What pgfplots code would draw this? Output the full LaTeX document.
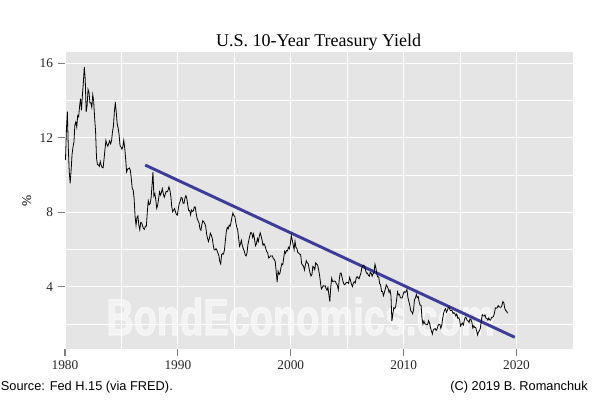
\documentclass[border=0pt]{standalone}
\usepackage{fontspec}
\setmainfont{Liberation Serif}
\newfontfamily\arialfont{Liberation Sans}
\newfontfamily\markfont{Liberation Sans Bold}[FakeBold=2.5]
\usepackage{pgfplots}
\usepackage{pgfplotstable}
\pgfplotsset{compat=1.18}
\definecolor{panel}{HTML}{E5E5E5}
\definecolor{trend}{HTML}{3D3D99}
\definecolor{tickc}{HTML}{7F7F7F}

% monthly 10-year yield, Jan 1980 .. Mar 2019 (one year per line)
\pgfplotstableread[row sep=\\]{
y\\
10.80\\ 12.41\\ 13.40\\ 11.47\\ 10.18\\ 9.55\\ 10.25\\ 11.10\\ 11.51\\ 11.75\\ 12.68\\ 12.84\\
12.57\\ 13.19\\ 13.12\\ 13.68\\ 14.10\\ 13.47\\ 14.28\\ 14.94\\ 15.80\\ 15.15\\ 13.39\\ 13.72\\
14.59\\ 14.43\\ 13.86\\ 13.87\\ 13.62\\ 14.30\\ 13.95\\ 13.06\\ 12.34\\ 10.91\\ 10.55\\ 10.54\\
10.46\\ 10.72\\ 10.51\\ 10.40\\ 10.38\\ 10.85\\ 11.38\\ 11.85\\ 11.65\\ 11.54\\ 11.69\\ 11.83\\
11.67\\ 11.84\\ 12.32\\ 12.63\\ 13.41\\ 13.90\\ 13.36\\ 12.72\\ 12.52\\ 12.16\\ 11.57\\ 11.50\\
11.38\\ 11.51\\ 11.86\\ 11.43\\ 10.85\\ 10.16\\ 10.31\\ 10.33\\ 10.37\\ 10.24\\ 9.78\\ 9.26\\
9.19\\ 8.70\\ 7.78\\ 7.30\\ 7.71\\ 7.80\\ 7.30\\ 7.05\\ 7.45\\ 7.43\\ 7.25\\ 7.11\\
7.08\\ 7.25\\ 7.25\\ 8.02\\ 8.61\\ 8.40\\ 8.45\\ 8.76\\ 9.42\\ 10.15\\ 8.86\\ 8.99\\
8.67\\ 8.21\\ 8.37\\ 8.72\\ 9.09\\ 8.92\\ 9.06\\ 9.26\\ 8.98\\ 8.80\\ 8.96\\ 9.11\\
9.09\\ 9.17\\ 9.36\\ 9.18\\ 8.86\\ 8.28\\ 8.02\\ 8.11\\ 8.19\\ 8.01\\ 7.87\\ 7.84\\
8.21\\ 8.47\\ 8.59\\ 8.79\\ 8.76\\ 8.48\\ 8.47\\ 8.75\\ 8.89\\ 8.72\\ 8.39\\ 8.08\\
8.09\\ 7.85\\ 8.11\\ 8.04\\ 8.07\\ 8.28\\ 8.27\\ 7.90\\ 7.65\\ 7.53\\ 7.42\\ 7.09\\
7.03\\ 7.34\\ 7.54\\ 7.48\\ 7.39\\ 7.26\\ 6.84\\ 6.59\\ 6.42\\ 6.59\\ 6.87\\ 6.77\\
6.60\\ 6.26\\ 5.98\\ 5.97\\ 6.04\\ 5.96\\ 5.81\\ 5.68\\ 5.36\\ 5.22\\ 5.72\\ 5.77\\
5.75\\ 5.97\\ 6.48\\ 6.97\\ 7.18\\ 7.10\\ 7.30\\ 7.24\\ 7.46\\ 7.74\\ 7.96\\ 7.81\\
7.78\\ 7.47\\ 7.20\\ 7.06\\ 6.63\\ 6.17\\ 6.28\\ 6.49\\ 6.20\\ 6.04\\ 5.93\\ 5.71\\
5.65\\ 5.81\\ 6.27\\ 6.51\\ 6.74\\ 6.91\\ 6.87\\ 6.64\\ 6.83\\ 6.53\\ 6.20\\ 6.30\\
6.58\\ 6.42\\ 6.69\\ 6.89\\ 6.71\\ 6.49\\ 6.22\\ 6.30\\ 6.21\\ 6.03\\ 5.88\\ 5.81\\
5.54\\ 5.57\\ 5.65\\ 5.64\\ 5.65\\ 5.50\\ 5.46\\ 5.34\\ 4.81\\ 4.25\\ 4.83\\ 4.65\\
4.72\\ 5.00\\ 5.23\\ 5.18\\ 5.54\\ 5.90\\ 5.79\\ 5.94\\ 5.92\\ 6.11\\ 6.03\\ 6.28\\
6.75\\ 6.52\\ 6.26\\ 5.99\\ 6.44\\ 6.10\\ 6.05\\ 5.83\\ 5.80\\ 5.74\\ 5.72\\ 5.24\\
5.16\\ 5.10\\ 4.89\\ 5.14\\ 5.39\\ 5.28\\ 5.24\\ 4.97\\ 4.73\\ 4.57\\ 4.65\\ 5.09\\
5.04\\ 4.91\\ 5.28\\ 5.21\\ 5.16\\ 4.93\\ 4.65\\ 4.26\\ 3.87\\ 3.94\\ 4.05\\ 4.03\\
4.05\\ 3.90\\ 3.81\\ 3.96\\ 3.57\\ 3.20\\ 3.98\\ 4.45\\ 4.27\\ 4.29\\ 4.30\\ 4.27\\
4.15\\ 4.08\\ 3.83\\ 4.35\\ 4.72\\ 4.73\\ 4.50\\ 4.28\\ 4.13\\ 4.10\\ 4.19\\ 4.23\\
4.22\\ 4.17\\ 4.50\\ 4.34\\ 4.14\\ 4.00\\ 4.18\\ 4.26\\ 4.20\\ 4.46\\ 4.54\\ 4.47\\
4.42\\ 4.57\\ 4.72\\ 4.99\\ 5.11\\ 5.15\\ 5.09\\ 4.88\\ 4.72\\ 4.73\\ 4.60\\ 4.56\\
4.76\\ 4.72\\ 4.56\\ 4.69\\ 4.75\\ 5.20\\ 5.00\\ 4.67\\ 4.52\\ 4.53\\ 4.15\\ 4.10\\
3.74\\ 3.74\\ 3.51\\ 3.68\\ 3.88\\ 4.10\\ 4.01\\ 3.89\\ 3.69\\ 3.81\\ 3.53\\ 2.15\\
2.52\\ 2.87\\ 2.82\\ 2.93\\ 3.29\\ 3.72\\ 3.56\\ 3.59\\ 3.40\\ 3.39\\ 3.40\\ 3.59\\
3.73\\ 3.69\\ 3.73\\ 3.85\\ 3.42\\ 3.20\\ 3.01\\ 2.70\\ 2.65\\ 2.54\\ 2.76\\ 3.29\\
3.39\\ 3.58\\ 3.41\\ 3.46\\ 3.17\\ 3.00\\ 3.00\\ 2.30\\ 1.98\\ 2.15\\ 2.01\\ 1.98\\
1.97\\ 1.97\\ 2.17\\ 2.05\\ 1.80\\ 1.62\\ 1.45\\ 1.68\\ 1.72\\ 1.75\\ 1.65\\ 1.72\\
1.91\\ 1.98\\ 1.96\\ 1.76\\ 1.93\\ 2.30\\ 2.58\\ 2.74\\ 2.81\\ 2.62\\ 2.72\\ 2.90\\
2.86\\ 2.71\\ 2.72\\ 2.71\\ 2.56\\ 2.60\\ 2.54\\ 2.42\\ 2.53\\ 2.30\\ 2.33\\ 2.21\\
1.88\\ 1.98\\ 2.04\\ 1.94\\ 2.20\\ 2.36\\ 2.32\\ 2.17\\ 2.17\\ 2.07\\ 2.26\\ 2.24\\
2.09\\ 1.78\\ 1.89\\ 1.81\\ 1.81\\ 1.64\\ 1.40\\ 1.56\\ 1.63\\ 1.76\\ 2.14\\ 2.49\\
2.43\\ 2.42\\ 2.48\\ 2.30\\ 2.30\\ 2.19\\ 2.32\\ 2.21\\ 2.20\\ 2.36\\ 2.35\\ 2.40\\
2.58\\ 2.86\\ 2.84\\ 2.87\\ 2.98\\ 2.91\\ 2.89\\ 2.89\\ 3.00\\ 3.20\\ 3.12\\ 2.83\\
2.71\\ 2.68\\ 2.57\\
}\yields

\begin{document}
\begin{tikzpicture}
\useasboundingbox (0,0) rectangle (450pt,300pt);
% grey panel and watermark sit under the grid and the data
\fill[panel] (48.75pt,38.25pt) rectangle (429.75pt,261pt);
\node[anchor=base west, inner sep=0, text=white, opacity=0.55,
      font=\markfont\fontsize{38.5}{38.5}\selectfont]
  at (79.5pt,48.75pt) {\scalebox{0.74}[1]{BondEconomics.com}};

\begin{axis}[
  at={(48.75pt,38.25pt)}, anchor=south west,
  scale only axis, width=381pt, height=222.75pt,
  xmin=1980, xmax=2025, ymin=0.65, ymax=16.6,
  axis x line*=bottom, axis y line*=left, axis line style={draw=none},
  xtick={1980,1990,2000,2010,2020}, minor xtick={1985,1995,2005,2015,2025},
  xticklabels={1980,1990,2000,2010,2020},
  ytick={4,8,12,16}, minor ytick={2,6,10,14},
  yticklabels={4,8,12,16},
  grid=both,
  major grid style={white, line width=0.9pt},
  minor grid style={white, line width=0.45pt},
  tick align=outside, major tick length=5.5pt, minor tick length=0pt,
  tick style={tickc, line width=0.8pt},
  tick label style={font=\fontsize{10}{12}\selectfont, text=black!85},
  ylabel={\%},
  ylabel style={at={(axis description cs:-0.0754,0.5)}, anchor=center, font=\fontsize{10}{12}\selectfont},
]
\addplot[trend, line width=2.2pt] coordinates {(1987.1,10.53) (2019.84,1.28)};
\addplot[black, line width=0.6pt] table[x expr=1980+\coordindex/12+1/24, y=y] {\yields};
\end{axis}

\node[anchor=base, inner sep=0, font=\fontsize{13.5}{16}\selectfont]
  at (239pt,264.75pt) {U.S. 10-Year Treasury Yield};
\node[anchor=base west, inner sep=0, font=\arialfont\fontsize{9.6}{11}\selectfont]
  at (0.5pt,7.5pt) {Source: Fed H.15 (via FRED).};
\node[anchor=base east, inner sep=0, font=\arialfont\fontsize{9.6}{11}\selectfont]
  at (441pt,7.5pt) {(C) 2019 B. Romanchuk};
\end{tikzpicture}
\end{document}
